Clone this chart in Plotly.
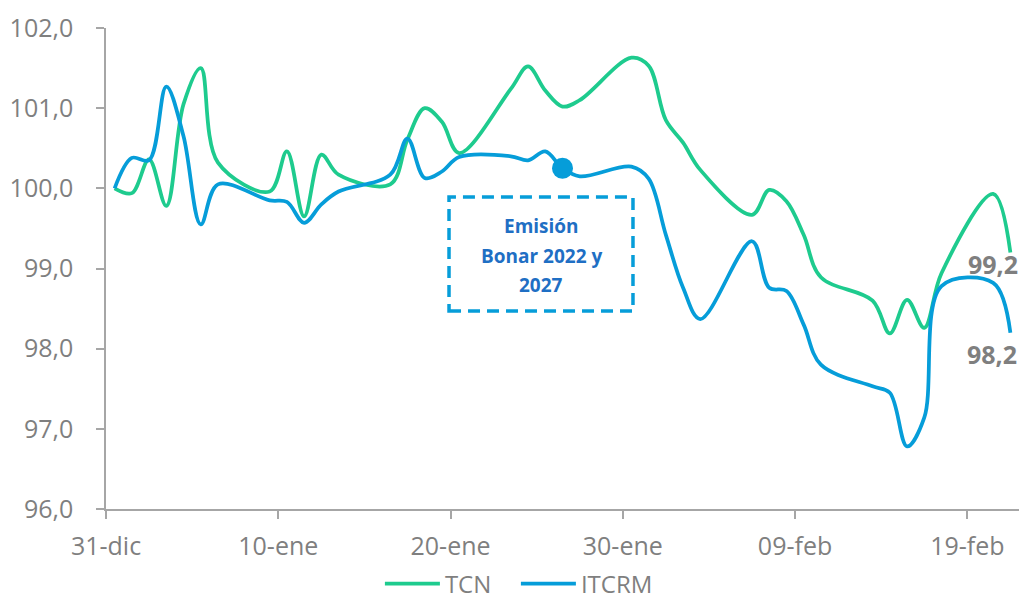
import plotly.graph_objects as go

# Daily observations (business days) of the nominal and real multilateral exchange rate indices
FECHAS = [
    "2016-12-31", "2017-01-01", "2017-01-02", "2017-01-03", "2017-01-04", "2017-01-05", "2017-01-06",
    "2017-01-09", "2017-01-10", "2017-01-11", "2017-01-12", "2017-01-13",
    "2017-01-16", "2017-01-17", "2017-01-18", "2017-01-19", "2017-01-20",
    "2017-01-23", "2017-01-24", "2017-01-25", "2017-01-26", "2017-01-27",
    "2017-01-30", "2017-01-31", "2017-02-01", "2017-02-02", "2017-02-03",
    "2017-02-06", "2017-02-07", "2017-02-08", "2017-02-09", "2017-02-10",
    "2017-02-13", "2017-02-14", "2017-02-15", "2017-02-16", "2017-02-17",
    "2017-02-20", "2017-02-21",
]

TCN = [
    100.00, 99.94, 100.36, 99.78, 101.05, 101.50, 100.32,
    99.96, 100.46, 99.65, 100.42, 100.17,
    100.05, 100.61, 101.00, 100.83, 100.44,
    101.24, 101.52, 101.22, 101.02, 101.10,
    101.63, 101.53, 100.85, 100.57, 100.23,
    99.67, 99.98, 99.84, 99.42, 98.89,
    98.60, 98.19, 98.61, 98.26, 98.94,
    99.93, 99.20,
]

ITCRM = [
    100.00, 100.38, 100.35, 101.27, 100.65, 99.55, 100.05,
    99.85, 99.83, 99.57, 99.80, 99.96,
    100.17, 100.62, 100.13, 100.21, 100.39,
    100.40, 100.35, 100.46, 100.25, 100.15,
    100.27, 100.12, 99.42, 98.76, 98.37,
    99.34, 98.76, 98.72, 98.30, 97.80,
    97.53, 97.45, 96.78, 97.14, 98.78,
    98.82, 98.20,
]

TICK_FECHAS = ["2016-12-31", "2017-01-10", "2017-01-20", "2017-01-30", "2017-02-09", "2017-02-19"]
TICK_TEXTO = ["31-dic", "10-ene", "20-ene", "30-ene", "09-feb", "19-feb"]

EMISION_FECHA = "2017-01-26"
EMISION_TEXTO = ["Emisión", "Bonar 2022 y", "2027"]

VERDE = "#1ECB8E"
AZUL = "#069DD9"
GRIS = "#7F7F7F"
EJE = "#A6A6A6"
FUENTE = "Open Sans"

# each observation sits in the middle of its day
x = [f + " 12:00" for f in FECHAS]

fig = go.Figure()
fig.add_trace(go.Scatter(
    x=x, y=TCN, name="TCN", mode="lines",
    line=dict(color=VERDE, width=3.75, shape="spline", smoothing=1.0),
))
fig.add_trace(go.Scatter(
    x=x, y=ITCRM, name="ITCRM", mode="lines",
    line=dict(color=AZUL, width=3.75, shape="spline", smoothing=1.0),
))

# marker on the ITCRM series at the bond issue date
i_em = FECHAS.index(EMISION_FECHA)
fig.add_trace(go.Scatter(
    x=[x[i_em]], y=[ITCRM[i_em]], mode="markers", showlegend=False,
    marker=dict(color=AZUL, size=21, line=dict(width=0)),
))

# end-of-series value labels
def fmt(v):
    return f"{v:.1f}".replace(".", ",")

fig.add_annotation(x=x[-1], y=TCN[-1], text=f"<b>{fmt(TCN[-1])}</b>", showarrow=False,
                   xshift=-17, yshift=-12, font=dict(family=FUENTE, size=25, color=GRIS))
fig.add_annotation(x=x[-1], y=ITCRM[-1], text=f"<b>{fmt(ITCRM[-1])}</b>", showarrow=False,
                   xshift=-18, yshift=-21, font=dict(family=FUENTE, size=25, color=GRIS))

# dashed callout box
fig.add_shape(type="rect", xref="paper", yref="paper",
              x0=0.3757, x1=0.5772, y0=0.4116, y1=0.6486,
              line=dict(color=AZUL, width=3.5, dash="12px,7px"), fillcolor="rgba(0,0,0,0)")
for k, linea in enumerate(EMISION_TEXTO):
    fig.add_annotation(xref="paper", yref="paper", x=0.4765, y=0.588 - k * 0.0615,
                       text=f"<b>{linea}</b>", showarrow=False,
                       font=dict(family=FUENTE, size=19, color="#1F6FC4"))

fig.update_layout(
    width=1021, height=599,
    margin=dict(l=106, r=2, t=28, b=90, autoexpand=False),
    paper_bgcolor="white", plot_bgcolor="white",
    separators=",.",
    font=dict(family=FUENTE, size=25, color=GRIS),
    showlegend=True,
    legend=dict(orientation="h", x=0.30, xanchor="left", y=-0.156, yanchor="middle",
                font=dict(family=FUENTE, size=24, color=GRIS), itemwidth=55,
                entrywidth=66, entrywidthmode="pixels",
                bgcolor="rgba(0,0,0,0)"),
)
fig.update_xaxes(
    type="date", range=["2016-12-31", "2017-02-22"],
    tickvals=TICK_FECHAS, ticktext=TICK_TEXTO,
    showline=True, linecolor=EJE, linewidth=1.5,
    ticks="outside", ticklen=8, tickcolor=EJE, tickwidth=1.5,
    showgrid=False, zeroline=False, ticklabelstandoff=6,
    tickfont=dict(family=FUENTE, size=25, color=GRIS),
)
fig.update_yaxes(
    range=[96, 102], dtick=1, tick0=96, tickformat=".1f",
    showline=True, linecolor=EJE, linewidth=1.5,
    ticks="outside", ticklen=8, tickcolor=EJE, tickwidth=1.5,
    showgrid=False, zeroline=False, ticklabelstandoff=18,
    tickfont=dict(family=FUENTE, size=25, color=GRIS),
)

fig.write_html("out.html")
